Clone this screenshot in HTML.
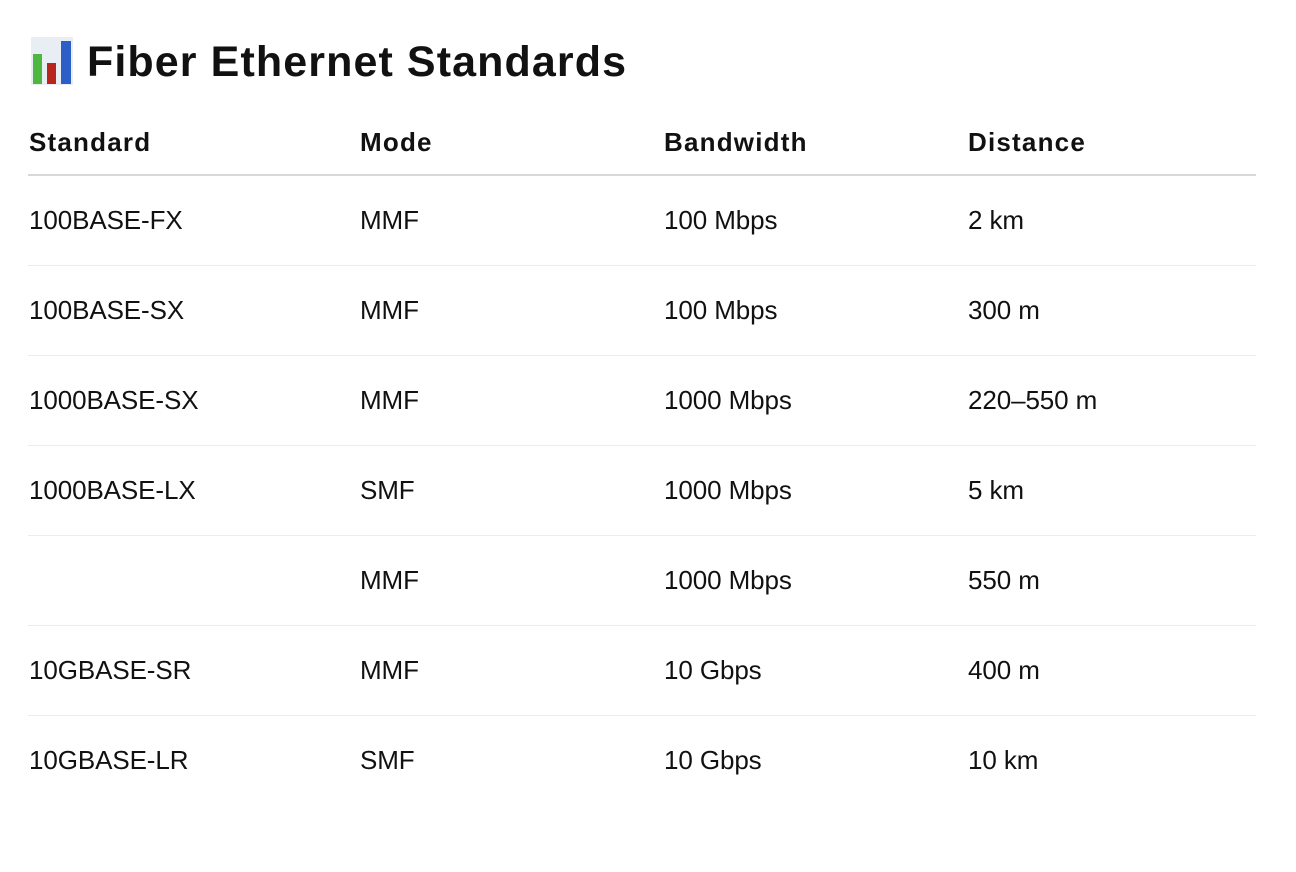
<!DOCTYPE html>
<html><head><meta charset="utf-8"><style>
body{margin:0;width:1296px;height:872px;background:#fff;font-family:"Liberation Sans",sans-serif;color:#111;position:relative;overflow:hidden}
.t{position:absolute;white-space:nowrap}
h1{position:absolute;left:87px;top:36px;margin:0;font-size:43px;font-weight:bold;line-height:52px;letter-spacing:1.1px}
.h{font-size:26px;font-weight:bold;line-height:30px;letter-spacing:1.2px}
.c{font-size:26px;line-height:30px;letter-spacing:-0.1px}
.ln{position:absolute;left:28px;width:1228px;height:1px;background:#ececec}
</style></head><body>
<svg style="position:absolute;left:31px;top:37px" width="42" height="48">
<rect x="0" y="0" width="42" height="48" fill="#e8eef4"/>
<rect x="2" y="17" width="9" height="30" fill="#4cb840"/>
<rect x="16" y="26" width="9" height="21" fill="#b8251c"/>
<rect x="30" y="4" width="10" height="43" fill="#2c5ec8"/>
</svg>
<h1>Fiber Ethernet Standards</h1>
<div class="t h" style="left:29px;top:127px">Standard</div>
<div class="t h" style="left:360px;top:127px">Mode</div>
<div class="t h" style="left:664px;top:127px">Bandwidth</div>
<div class="t h" style="left:968px;top:127px">Distance</div>
<div class="ln" style="top:174px;height:2px;background:#d8d8d8"></div>

<div class="t c" style="left:29px;top:205px">100BASE-FX</div><div class="t c" style="left:360px;top:205px">MMF</div><div class="t c" style="left:664px;top:205px">100 Mbps</div><div class="t c" style="left:968px;top:205px">2 km</div>
<div class="ln" style="top:265px"></div>
<div class="t c" style="left:29px;top:295px">100BASE-SX</div><div class="t c" style="left:360px;top:295px">MMF</div><div class="t c" style="left:664px;top:295px">100 Mbps</div><div class="t c" style="left:968px;top:295px">300 m</div>
<div class="ln" style="top:355px"></div>
<div class="t c" style="left:29px;top:385px">1000BASE-SX</div><div class="t c" style="left:360px;top:385px">MMF</div><div class="t c" style="left:664px;top:385px">1000 Mbps</div><div class="t c" style="left:968px;top:385px">220–550 m</div>
<div class="ln" style="top:445px"></div>
<div class="t c" style="left:29px;top:475px">1000BASE-LX</div><div class="t c" style="left:360px;top:475px">SMF</div><div class="t c" style="left:664px;top:475px">1000 Mbps</div><div class="t c" style="left:968px;top:475px">5 km</div>
<div class="ln" style="top:535px"></div>
<div class="t c" style="left:360px;top:565px">MMF</div><div class="t c" style="left:664px;top:565px">1000 Mbps</div><div class="t c" style="left:968px;top:565px">550 m</div>
<div class="ln" style="top:625px"></div>
<div class="t c" style="left:29px;top:655px">10GBASE-SR</div><div class="t c" style="left:360px;top:655px">MMF</div><div class="t c" style="left:664px;top:655px">10 Gbps</div><div class="t c" style="left:968px;top:655px">400 m</div>
<div class="ln" style="top:715px"></div>
<div class="t c" style="left:29px;top:745px">10GBASE-LR</div><div class="t c" style="left:360px;top:745px">SMF</div><div class="t c" style="left:664px;top:745px">10 Gbps</div><div class="t c" style="left:968px;top:745px">10 km</div>
</body></html>
